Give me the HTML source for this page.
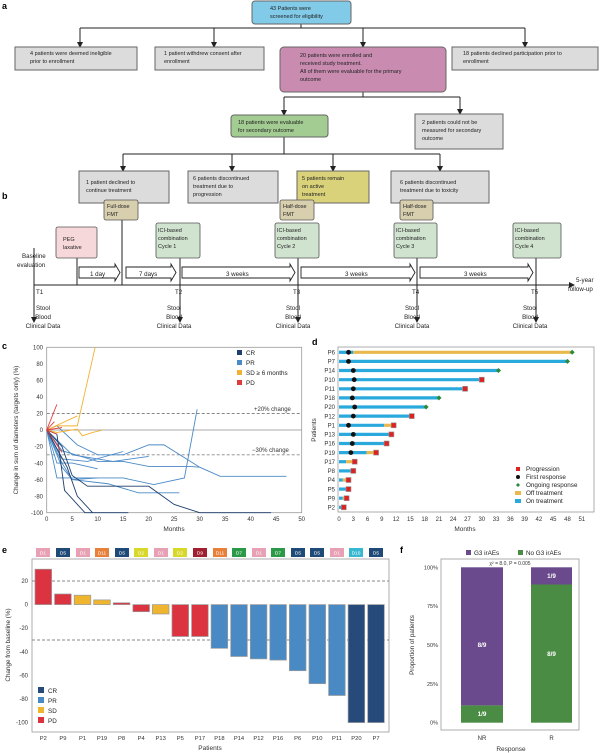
<!DOCTYPE html>
<html><head><meta charset="utf-8"><style>
html,body{margin:0;padding:0;background:#fff}
svg{display:block;font-family:"Liberation Sans",sans-serif}
</style></head><body>
<svg width="600" height="753" viewBox="0 0 600 753" xmlns="http://www.w3.org/2000/svg">
<defs><marker id="ah" markerWidth="6" markerHeight="6" refX="3" refY="3" orient="auto"><path d="M0,0L6,3L0,6z" fill="#222"/></marker></defs>
<!-- Panel a -->
<text x="2" y="9" font-size="9" font-weight="bold">a</text>
<g stroke="#222" stroke-width="1" fill="none">
<line x1="301" y1="24" x2="301" y2="28"/>
<line x1="80" y1="28" x2="525" y2="28"/>
<line x1="80" y1="28" x2="80" y2="45" marker-end="url(#ah)"/>
<line x1="214" y1="28" x2="214" y2="45" marker-end="url(#ah)"/>
<line x1="363" y1="28" x2="363" y2="45" marker-end="url(#ah)"/>
<line x1="525" y1="28" x2="525" y2="45" marker-end="url(#ah)"/>
<line x1="363" y1="92" x2="363" y2="97"/>
<line x1="284" y1="97" x2="460" y2="97"/>
<line x1="284" y1="97" x2="284" y2="113" marker-end="url(#ah)"/>
<line x1="460" y1="97" x2="460" y2="112" marker-end="url(#ah)"/>
<line x1="284" y1="137" x2="284" y2="154"/>
<line x1="123" y1="154" x2="440" y2="154"/>
<line x1="123" y1="154" x2="123" y2="169" marker-end="url(#ah)"/>
<line x1="232" y1="154" x2="232" y2="169" marker-end="url(#ah)"/>
<line x1="333" y1="154" x2="333" y2="169" marker-end="url(#ah)"/>
<line x1="440" y1="154" x2="440" y2="169" marker-end="url(#ah)"/>
</g>
<g stroke="#666" stroke-width="1">
<rect x="252" y="1" width="99" height="23" rx="3" fill="#82cbe8"/>
<rect x="15" y="47" width="122" height="23" fill="#dcdcdc"/>
<rect x="155" y="47" width="109" height="23" fill="#dcdcdc"/>
<rect x="280" y="47" width="166" height="45" rx="4" fill="#c98cb0"/>
<rect x="452" y="47" width="146" height="23" fill="#dcdcdc"/>
<rect x="231" y="115" width="97" height="22" rx="3" fill="#a3cc92"/>
<rect x="415" y="114" width="88" height="35" fill="#dcdcdc"/>
<rect x="79" y="171" width="90" height="32" fill="#dcdcdc"/>
<rect x="188" y="171" width="90" height="32" fill="#dcdcdc"/>
<rect x="297" y="171" width="72" height="32" fill="#d9d27a"/>
<rect x="391" y="171" width="98" height="32" fill="#dcdcdc"/>
</g>
<g font-size="5.5" fill="#222">
<text x="270" y="10">43 Patients were</text><text x="270" y="18">screened for eligibility</text>
<text x="30" y="55">4 patients were deemed ineligible</text><text x="30" y="63">prior to enrollment</text>
<text x="164" y="55">1 patient withdrew consent after</text><text x="164" y="63">enrollment</text>
<text x="300" y="57">20 patients were enrolled and</text><text x="300" y="65">received study treatment.</text><text x="300" y="73">All of them were evaluable for the primary</text><text x="300" y="81">outcome</text>
<text x="463" y="55">18 patients declined participation prior to</text><text x="463" y="63">enrollment</text>
<text x="238" y="124">18 patients were evaluable</text><text x="238" y="132">for secondary outcome</text>
<text x="422" y="124">2 patients could not be</text><text x="422" y="132">measured for secondary</text><text x="422" y="140">outcome</text>
<text x="86" y="184">1 patient declined to</text><text x="86" y="192">continue treatment</text>
<text x="193" y="180">6 patients discontinued</text><text x="193" y="188">treatment due to</text><text x="193" y="196">progression</text>
<text x="302" y="180">5 patients remain</text><text x="302" y="188">on active</text><text x="302" y="196">treatment</text>
<text x="400" y="184">6 patients discontinued</text><text x="400" y="192">treatment due to toxicity</text>
</g>
<!-- Panel b -->
<text x="2" y="199" font-size="9" font-weight="bold">b</text>
<g stroke="#222" stroke-width="1" fill="none">
<line x1="34" y1="285" x2="572" y2="285" marker-end="url(#ah)"/>
<line x1="34" y1="248" x2="34" y2="320" marker-end="url(#ah)"/>
<line x1="77" y1="258" x2="77" y2="285"/>
<line x1="122" y1="220" x2="122" y2="285"/>
<line x1="180" y1="258" x2="180" y2="320" marker-end="url(#ah)"/>
<line x1="298" y1="258" x2="298" y2="320" marker-end="url(#ah)"/>
<line x1="417" y1="258" x2="417" y2="320" marker-end="url(#ah)"/>
<line x1="536" y1="258" x2="536" y2="320" marker-end="url(#ah)"/>
</g>
<g stroke="#555" stroke-width="0.8">
<rect x="104" y="200" width="34" height="20" rx="2" fill="#d8cfae"/>
<rect x="280" y="200" width="34" height="20" rx="2" fill="#d8cfae"/>
<rect x="400" y="200" width="33" height="20" rx="2" fill="#d8cfae"/>
<rect x="56" y="227" width="41" height="31" rx="2" fill="#f6d8da"/>
<rect x="156" y="223" width="44" height="35" rx="2" fill="#cfe3cf"/>
<rect x="275" y="223" width="44" height="35" rx="2" fill="#cfe3cf"/>
<rect x="394" y="223" width="43" height="35" rx="2" fill="#cfe3cf"/>
<rect x="513" y="223" width="48" height="35" rx="2" fill="#cfe3cf"/>
</g>
<g fill="#fff" stroke="#222" stroke-width="0.9">
<path d="M79,267H115V264L120,272.5L115,281V278H79z"/>
<path d="M126,267H171V264L176,272.5L171,281V278H126z"/>
<path d="M182,267H290V264L295,272.5L290,281V278H182z"/>
<path d="M301,267H410V264L415,272.5L410,281V278H301z"/>
<path d="M420,267H528V264L533,272.5L528,281V278H420z"/>
</g>
<g font-size="5.5" fill="#222">
<text x="107" y="208">Full-dose</text><text x="107" y="216">FMT</text>
<text x="283" y="208">Half-dose</text><text x="283" y="216">FMT</text>
<text x="403" y="208">Half-dose</text><text x="403" y="216">FMT</text>
<text x="63" y="241">PEG</text><text x="63" y="249">laxative</text>
<text x="158" y="232">ICI-based</text><text x="158" y="240">combination</text><text x="158" y="248">Cycle 1</text>
<text x="277" y="232">ICI-based</text><text x="277" y="240">combination</text><text x="277" y="248">Cycle 2</text>
<text x="396" y="232">ICI-based</text><text x="396" y="240">combination</text><text x="396" y="248">Cycle 3</text>
<text x="515" y="232">ICI-based</text><text x="515" y="240">combination</text><text x="515" y="248">Cycle 4</text>
</g>
<g font-size="6.2" fill="#222">
<text x="22" y="258">Baseline</text><text x="17" y="267">evaluation</text>
<text x="90" y="276">1 day</text><text x="139" y="276">7 days</text>
<text x="226" y="276">3 weeks</text><text x="345" y="276">3 weeks</text><text x="464" y="276">3 weeks</text>
<text x="36" y="294">T1</text><text x="175" y="294">T2</text><text x="293" y="294">T3</text><text x="412" y="294">T4</text><text x="531" y="294">T5</text>
<text x="576" y="282">5-year</text><text x="568" y="291">follow-up</text>
</g>
<g font-size="6.2" fill="#222" text-anchor="middle">
<text x="43" y="310">Stool</text><text x="43" y="319">Blood</text><text x="43" y="328">Clinical Data</text>
<text x="174" y="310">Stool</text><text x="174" y="319">Blood</text><text x="174" y="328">Clinical Data</text>
<text x="293" y="310">Stool</text><text x="293" y="319">Blood</text><text x="293" y="328">Clinical Data</text>
<text x="412" y="310">Stool</text><text x="412" y="319">Blood</text><text x="412" y="328">Clinical Data</text>
<text x="530" y="310">Stool</text><text x="530" y="319">Blood</text><text x="530" y="328">Clinical Data</text>
</g>
<!-- Panel c -->
<text x="2" y="349" font-size="9" font-weight="bold">c</text>
<rect x="46.7" y="347.3" width="255" height="165.4" fill="none" stroke="#999" stroke-width="0.8"/>
<line x1="46.7" y1="430" x2="301.7" y2="430" stroke="#aaa" stroke-width="1"/>
<line x1="46.7" y1="413.5" x2="301.7" y2="413.5" stroke="#888" stroke-dasharray="3,2" stroke-width="0.9"/>
<line x1="46.7" y1="454.8" x2="301.7" y2="454.8" stroke="#888" stroke-dasharray="3,2" stroke-width="0.9"/>
<text x="254" y="411" font-size="6" fill="#333">+20% change</text>
<text x="252" y="452" font-size="6" fill="#333">−30% change</text>
<g transform="translate(46.7,430) scale(5.1,-0.827)" fill="none" stroke-width="0.9">
<g stroke="#4a8ac6">
<polyline vector-effect="non-scaling-stroke" points="0,0 2,-58 15,-58 21,-66 27,-58 29.5,25"/>
<polyline vector-effect="non-scaling-stroke" points="0,0 2,-40 5,-40 10,-47"/>
<polyline vector-effect="non-scaling-stroke" points="0,0 3,-25 10,-38 15,-38 20,-44 28,-44 30,-45"/>
<polyline vector-effect="non-scaling-stroke" points="0,0 2,5 6,-18 10,-30 15,-30 20,-18 23,-18 30,-45 34,-56 47,-56"/>
<polyline vector-effect="non-scaling-stroke" points="0,0 3,-45 5,-60 12,-65 18,-76 26,-76"/>
<polyline vector-effect="non-scaling-stroke" points="0,0 3,-35 8,-38 15,-26"/>
<polyline vector-effect="non-scaling-stroke" points="0,0 5,-30 13,-38 20,-32"/>
<polyline vector-effect="non-scaling-stroke" points="0,0 3,-40 5,-60 10,-58"/>
</g>
<g stroke="#1f3f6e">
<polyline vector-effect="non-scaling-stroke" points="0,0 2,-5 3.5,-73 7.5,-100 16,-100"/>
<polyline vector-effect="non-scaling-stroke" points="0,0 3,-20 5,-55 8,-68 20,-68 25,-90 30,-100 44,-100"/>
<polyline vector-effect="non-scaling-stroke" points="0,0 4,-45 6,-80 9,-100"/>
</g>
<g stroke="#f2b132">
<polyline vector-effect="non-scaling-stroke" points="0,0 2,5 6,5 9.5,100"/>
<polyline vector-effect="non-scaling-stroke" points="0,0 6,17"/>
<polyline vector-effect="non-scaling-stroke" points="0,0 2,-3 6,1 7,-7 9,-3 11,0"/>
</g>
<g stroke="#e03a3a">
<polyline vector-effect="non-scaling-stroke" points="0,0 2,31"/>
<polyline vector-effect="non-scaling-stroke" points="0,0 1.5,10"/>
<polyline vector-effect="non-scaling-stroke" points="0,0 3,-27"/>
<polyline vector-effect="non-scaling-stroke" points="0,0 2,-5"/>
<polyline vector-effect="non-scaling-stroke" points="0,0 3,3"/>
</g>
</g>
<g font-size="6" fill="#333" text-anchor="end">
<text x="43" y="349.5">100</text><text x="43" y="366">80</text><text x="43" y="382.6">60</text><text x="43" y="399">40</text><text x="43" y="415.7">20</text><text x="43" y="432.2">0</text><text x="43" y="448.7">-20</text><text x="43" y="465.3">-40</text><text x="43" y="481.8">-60</text><text x="43" y="498.4">-80</text><text x="43" y="515">-100</text>
</g>
<g font-size="6" fill="#333" text-anchor="middle">
<text x="46.7" y="521">0</text><text x="72.2" y="521">5</text><text x="97.7" y="521">10</text><text x="123.2" y="521">15</text><text x="148.7" y="521">20</text><text x="174.2" y="521">25</text><text x="199.7" y="521">30</text><text x="225.2" y="521">35</text><text x="250.7" y="521">40</text><text x="276.2" y="521">45</text><text x="301.7" y="521">50</text>
<text x="174" y="531" font-size="6.5">Months</text>
<text transform="translate(18,430) rotate(-90)" font-size="6.3">Change in sum of diameters (targets only) (%)</text>
</g>
<g font-size="6.3" fill="#222">
<rect x="237" y="350" width="5" height="5" fill="#1f3f6e"/><text x="246" y="355">CR</text>
<rect x="237" y="360" width="5" height="5" fill="#4a8ac6"/><text x="246" y="365">PR</text>
<rect x="237" y="370" width="5" height="5" fill="#f2b132"/><text x="246" y="375">SD ≥ 6 months</text>
<rect x="237" y="380" width="5" height="5" fill="#e03a3a"/><text x="246" y="385">PD</text>
</g>
<!-- Panel d -->
<text x="312" y="345" font-size="9" font-weight="bold">d</text>
<rect x="338" y="347" width="256" height="165" fill="none" stroke="#999" stroke-width="0.8"/>
<g stroke-width="3.2">
<line x1="339" y1="352.3" x2="353.3" y2="352.3" stroke="#29a9dc"/><line x1="353.3" y1="352.3" x2="572.2" y2="352.3" stroke="#e9b94f"/>
<line x1="339" y1="361.4" x2="567.5" y2="361.4" stroke="#29a9dc"/>
<line x1="339" y1="370.5" x2="498.5" y2="370.5" stroke="#29a9dc"/>
<line x1="339" y1="379.7" x2="481.8" y2="379.7" stroke="#29a9dc"/>
<line x1="339" y1="388.8" x2="465.1" y2="388.8" stroke="#29a9dc"/>
<line x1="339" y1="397.9" x2="439" y2="397.9" stroke="#29a9dc"/>
<line x1="339" y1="407" x2="426.1" y2="407" stroke="#29a9dc"/>
<line x1="339" y1="416.1" x2="411.8" y2="416.1" stroke="#29a9dc"/>
<line x1="339" y1="425.3" x2="384.2" y2="425.3" stroke="#29a9dc"/><line x1="384.2" y1="425.3" x2="393.7" y2="425.3" stroke="#e9b94f"/>
<line x1="339" y1="434.4" x2="391.4" y2="434.4" stroke="#29a9dc"/>
<line x1="339" y1="443.5" x2="386.6" y2="443.5" stroke="#29a9dc"/>
<line x1="339" y1="452.6" x2="366.6" y2="452.6" stroke="#29a9dc"/><line x1="366.6" y1="452.6" x2="376.1" y2="452.6" stroke="#e9b94f"/>
<line x1="339" y1="461.7" x2="346.1" y2="461.7" stroke="#29a9dc"/><line x1="346.1" y1="461.7" x2="354.7" y2="461.7" stroke="#e9b94f"/>
<line x1="339" y1="470.9" x2="353.3" y2="470.9" stroke="#29a9dc"/>
<line x1="339" y1="480" x2="342.8" y2="480" stroke="#29a9dc"/><line x1="342.8" y1="480" x2="348.5" y2="480" stroke="#e9b94f"/>
<line x1="339" y1="489.1" x2="348.5" y2="489.1" stroke="#29a9dc"/>
<line x1="339" y1="498.2" x2="342.8" y2="498.2" stroke="#29a9dc"/><line x1="342.8" y1="498.2" x2="346.6" y2="498.2" stroke="#e9b94f"/>
<line x1="339" y1="507.3" x2="342.8" y2="507.3" stroke="#29a9dc"/>
</g>
<g fill="#111">
<circle cx="348.5" cy="352.3" r="2.4"/><circle cx="348.5" cy="361.4" r="2.4"/><circle cx="353.3" cy="370.5" r="2.4"/><circle cx="354.2" cy="379.7" r="2.4"/><circle cx="353.3" cy="388.8" r="2.4"/><circle cx="352.3" cy="397.9" r="2.4"/><circle cx="354.7" cy="407" r="2.4"/><circle cx="353.3" cy="416.1" r="2.4"/><circle cx="348.5" cy="425.3" r="2.4"/><circle cx="353.3" cy="434.4" r="2.4"/><circle cx="352.3" cy="443.5" r="2.4"/><circle cx="350.9" cy="452.6" r="2.4"/>
</g>
<g fill="#d22" stroke="#999" stroke-width="0.6">
<rect x="479.3" y="377.2" width="5" height="5"/><rect x="462.6" y="386.3" width="5" height="5"/><rect x="409.3" y="413.6" width="5" height="5"/><rect x="391.2" y="422.8" width="5" height="5"/><rect x="388.9" y="431.9" width="5" height="5"/><rect x="384.1" y="441" width="5" height="5"/><rect x="373.6" y="450.1" width="5" height="5"/><rect x="352.2" y="459.2" width="5" height="5"/><rect x="350.8" y="468.4" width="5" height="5"/><rect x="346" y="477.5" width="5" height="5"/><rect x="346" y="486.6" width="5" height="5"/><rect x="344.1" y="495.7" width="5" height="5"/><rect x="341.3" y="504.8" width="5" height="5"/>
</g>
<g fill="#2a8a3a">
<path d="M572.2,349.8l2.5,2.5l-2.5,2.5l-2.5,-2.5z"/><path d="M567.5,358.9l2.5,2.5l-2.5,2.5l-2.5,-2.5z"/><path d="M498.5,368l2.5,2.5l-2.5,2.5l-2.5,-2.5z"/><path d="M439,395.4l2.5,2.5l-2.5,2.5l-2.5,-2.5z"/><path d="M426.1,404.5l2.5,2.5l-2.5,2.5l-2.5,-2.5z"/>
</g>
<g font-size="6" fill="#333" text-anchor="end">
<text x="335" y="354.5">P6</text><text x="335" y="363.6">P7</text><text x="335" y="372.7">P14</text><text x="335" y="381.9">P10</text><text x="335" y="391">P11</text><text x="335" y="400.1">P18</text><text x="335" y="409.2">P20</text><text x="335" y="418.3">P12</text><text x="335" y="427.5">P1</text><text x="335" y="436.6">P13</text><text x="335" y="445.7">P16</text><text x="335" y="454.8">P19</text><text x="335" y="463.9">P17</text><text x="335" y="473.1">P8</text><text x="335" y="482.2">P4</text><text x="335" y="491.3">P5</text><text x="335" y="500.4">P9</text><text x="335" y="509.5">P2</text>
</g>
<g font-size="6" fill="#333" text-anchor="middle">
<text x="339" y="521">0</text><text x="353.3" y="521">3</text><text x="367.6" y="521">6</text><text x="381.8" y="521">9</text><text x="396.1" y="521">12</text><text x="410.4" y="521">15</text><text x="424.7" y="521">18</text><text x="439" y="521">21</text><text x="453.2" y="521">24</text><text x="467.5" y="521">27</text><text x="481.8" y="521">30</text><text x="496.1" y="521">33</text><text x="510.4" y="521">36</text><text x="524.6" y="521">39</text><text x="538.9" y="521">42</text><text x="553.2" y="521">45</text><text x="567.5" y="521">48</text><text x="581.8" y="521">51</text>
<text x="465" y="531" font-size="6.5">Months</text>
<text transform="translate(316,430) rotate(-90)" font-size="6.5">Patients</text>
</g>
<g font-size="6.3" fill="#222">
<rect x="516" y="467" width="4" height="4" fill="#d22"/><text x="526" y="471">Progression</text>
<circle cx="518" cy="477" r="2" fill="#111"/><text x="526" y="479">First response</text>
<path d="M518,483l2,2l-2,2l-2,-2z" fill="#2a8a3a"/><text x="526" y="487">Ongoing response</text>
<rect x="515" y="491" width="6" height="4" fill="#e9b94f"/><text x="526" y="495">Off treatment</text>
<rect x="515" y="499" width="6" height="4" fill="#29a9dc"/><text x="526" y="503">On treatment</text>
</g>
<!-- Panel e -->
<text x="2" y="553" font-size="9" font-weight="bold">e</text>
<g font-size="4.8" fill="#fff" text-anchor="middle">
<rect x="36" y="548" width="14" height="9" fill="#e8a0b4"/><text x="43" y="554.5">D1</text>
<rect x="56" y="548" width="14" height="9" fill="#1f4a78"/><text x="63" y="554.5">D5</text>
<rect x="76" y="548" width="14" height="9" fill="#e8a0b4"/><text x="83" y="554.5">D1</text>
<rect x="95" y="548" width="14" height="9" fill="#e8803a"/><text x="102" y="554.5">D11</text>
<rect x="115" y="548" width="14" height="9" fill="#1f4a78"/><text x="122" y="554.5">D5</text>
<rect x="134" y="548" width="14" height="9" fill="#d8d82a"/><text x="141" y="554.5">D2</text>
<rect x="154" y="548" width="14" height="9" fill="#e8a0b4"/><text x="161" y="554.5">D1</text>
<rect x="173" y="548" width="14" height="9" fill="#d8d82a"/><text x="180" y="554.5">D2</text>
<rect x="193" y="548" width="14" height="9" fill="#a02030"/><text x="200" y="554.5">D9</text>
<rect x="213" y="548" width="14" height="9" fill="#e8803a"/><text x="220" y="554.5">D11</text>
<rect x="232" y="548" width="14" height="9" fill="#2a9a48"/><text x="239" y="554.5">D7</text>
<rect x="252" y="548" width="14" height="9" fill="#e8a0b4"/><text x="259" y="554.5">D1</text>
<rect x="271" y="548" width="14" height="9" fill="#2a9a48"/><text x="278" y="554.5">D7</text>
<rect x="291" y="548" width="14" height="9" fill="#1f4a78"/><text x="298" y="554.5">D5</text>
<rect x="310" y="548" width="14" height="9" fill="#1f4a78"/><text x="317" y="554.5">D5</text>
<rect x="330" y="548" width="14" height="9" fill="#e8a0b4"/><text x="337" y="554.5">D1</text>
<rect x="349" y="548" width="14" height="9" fill="#38b8d0"/><text x="356" y="554.5">D10</text>
<rect x="369" y="548" width="14" height="9" fill="#1f4a78"/><text x="376" y="554.5">D5</text>
</g>
<rect x="32" y="559" width="357" height="173" fill="none" stroke="#999" stroke-width="0.8"/>
<line x1="32" y1="581" x2="389" y2="581" stroke="#888" stroke-dasharray="3,2" stroke-width="0.9"/>
<line x1="32" y1="640" x2="389" y2="640" stroke="#888" stroke-dasharray="3,2" stroke-width="0.9"/>
<g stroke="#999" stroke-width="0.7">
<rect x="35" y="569.2" width="16.6" height="35.4" fill="#dc3340"/>
<rect x="54.6" y="594" width="16.6" height="10.6" fill="#dc3340"/>
<rect x="74.2" y="595.2" width="16.6" height="9.4" fill="#efb52e"/>
<rect x="93.7" y="599.9" width="16.6" height="4.7" fill="#efb52e"/>
<rect x="113.3" y="602.8" width="16.6" height="1.8" fill="#dc3340"/>
<rect x="132.9" y="604.6" width="16.6" height="7.1" fill="#dc3340"/>
<rect x="152.4" y="604.6" width="16.6" height="9.4" fill="#efb52e"/>
<rect x="172" y="604.6" width="16.6" height="31.9" fill="#dc3340"/>
<rect x="191.6" y="604.6" width="16.6" height="31.9" fill="#dc3340"/>
<rect x="211.1" y="604.6" width="16.6" height="43.7" fill="#4a8ac4"/>
<rect x="230.7" y="604.6" width="16.6" height="51.9" fill="#4a8ac4"/>
<rect x="250.3" y="604.6" width="16.6" height="54.3" fill="#4a8ac4"/>
<rect x="269.8" y="604.6" width="16.6" height="55.5" fill="#4a8ac4"/>
<rect x="289.4" y="604.6" width="16.6" height="66.1" fill="#4a8ac4"/>
<rect x="309" y="604.6" width="16.6" height="79.1" fill="#4a8ac4"/>
<rect x="328.6" y="604.6" width="16.6" height="90.9" fill="#4a8ac4"/>
<rect x="348.1" y="604.6" width="16.6" height="118" fill="#264b7a"/>
<rect x="367.7" y="604.6" width="16.6" height="118" fill="#264b7a"/>
</g>
<g font-size="6" fill="#333" text-anchor="end">
<text x="28" y="583">20</text><text x="28" y="606.6">0</text><text x="28" y="630.2">-20</text><text x="28" y="653.8">-40</text><text x="28" y="677.4">-60</text><text x="28" y="701">-80</text><text x="28" y="724.6">-100</text>
</g>
<g font-size="5.8" fill="#333" text-anchor="middle">
<text x="43.3" y="740">P2</text><text x="62.9" y="740">P9</text><text x="82.5" y="740">P1</text><text x="102" y="740">P19</text><text x="121.6" y="740">P8</text><text x="141.2" y="740">P4</text><text x="160.7" y="740">P13</text><text x="180.3" y="740">P5</text><text x="199.9" y="740">P17</text><text x="219.4" y="740">P18</text><text x="239" y="740">P14</text><text x="258.6" y="740">P12</text><text x="278.1" y="740">P16</text><text x="297.7" y="740">P6</text><text x="317.3" y="740">P10</text><text x="336.9" y="740">P11</text><text x="356.4" y="740">P20</text><text x="376" y="740">P7</text>
<text x="210" y="750" font-size="6.5">Patients</text>
<text transform="translate(10,645) rotate(-90)" font-size="6.3">Change from baseline (%)</text>
</g>
<g font-size="6.3" fill="#222">
<rect x="38" y="687" width="6" height="6" fill="#264b7a"/><text x="48" y="693">CR</text>
<rect x="38" y="697" width="6" height="6" fill="#4a8ac4"/><text x="48" y="703">PR</text>
<rect x="38" y="707" width="6" height="6" fill="#efb52e"/><text x="48" y="713">SD</text>
<rect x="38" y="717" width="6" height="6" fill="#dc3340"/><text x="48" y="723">PD</text>
</g>
<!-- Panel f -->
<text x="400" y="553" font-size="9" font-weight="bold">f</text>
<g font-size="6.3" fill="#222">
<rect x="466" y="550" width="5" height="5" fill="#6a4a8c"/><text x="474" y="555">G3 irAEs</text>
<rect x="518" y="550" width="5" height="5" fill="#4a8c44"/><text x="526" y="555">No G3 irAEs</text>
</g>
<rect x="441" y="559" width="138" height="171" fill="none" stroke="#999" stroke-width="0.8"/>
<text x="510" y="565" font-size="5" fill="#333" text-anchor="middle">χ² = 8.0, P = 0.005</text>
<rect x="461" y="567.3" width="42" height="138.1" fill="#6a4a8c"/>
<rect x="461" y="705.4" width="42" height="17.3" fill="#4a8c44"/>
<rect x="531" y="567.3" width="41" height="17.2" fill="#6a4a8c"/>
<rect x="531" y="584.5" width="41" height="138.2" fill="#4a8c44"/>
<g font-size="6.3" fill="#fff" font-weight="bold" text-anchor="middle">
<text x="482" y="647">8/9</text><text x="482" y="716">1/9</text><text x="551.5" y="578">1/9</text><text x="551.5" y="656">8/9</text>
</g>
<g font-size="5.5" fill="#333" text-anchor="end">
<text x="438" y="569.5">100%</text><text x="438" y="608.2">75%</text><text x="438" y="647">50%</text><text x="438" y="686">25%</text><text x="438" y="724.7">0%</text>
</g>
<g font-size="6" fill="#333" text-anchor="middle">
<text x="482" y="740">NR</text><text x="551.5" y="740">R</text>
<text x="511" y="751" font-size="6.5">Response</text>
<text transform="translate(414,645) rotate(-90)" font-size="6.3">Proportion of patients</text>
</g>
</svg>
</body></html>
